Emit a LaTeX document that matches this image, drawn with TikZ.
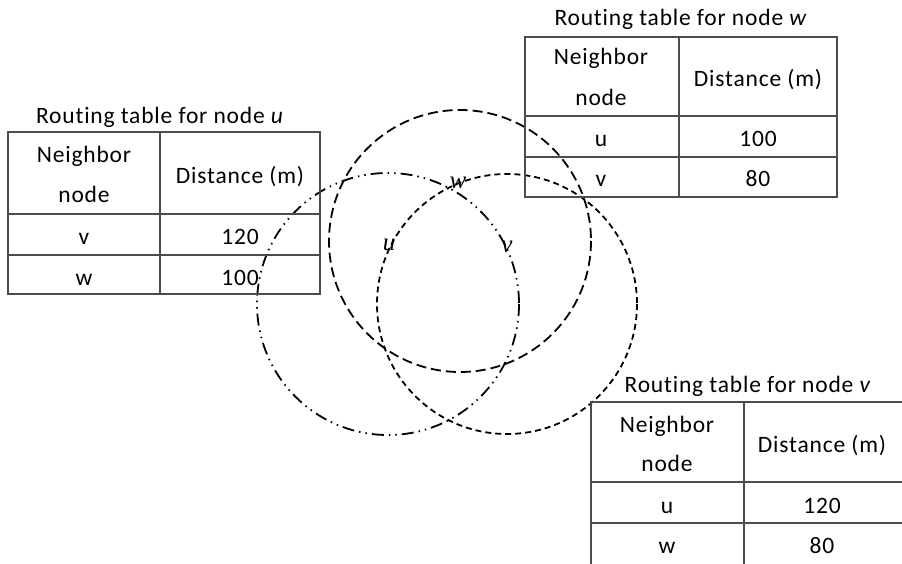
\documentclass[tikz,border=0pt]{standalone}
\usepackage{fontspec}
\setmainfont{Carlito}[LetterSpace=3.5,Ligatures=NoCommon]
\newfontfamily\tnr{Liberation Serif}
\begin{document}
\begin{tikzpicture}[x=1pt,y=-1pt,
  tline/.style={draw=black!70, line width=1.2pt},
  ttext/.style={font=\fontsize{23.5}{26}\selectfont, inner sep=0pt, anchor=base},
  lbl/.style={font=\tnr\itshape\fontsize{25}{27}\selectfont, inner sep=0pt, anchor=base},
  rangeu/.style={line width=1.8pt, dash pattern=on 12pt off 5pt on 1.5pt off 5pt on 1.5pt off 5pt},
  rangew/.style={line width=1.8pt, dash pattern=on 10pt off 5pt},
  rangev/.style={line width=1.8pt, dash pattern=on 6pt off 4pt}]
\useasboundingbox (0,0) rectangle (902,563);

% circles (communication ranges)
\coordinate (cu) at (388,304);
\coordinate (cw) at (460,241);
\coordinate (cv) at (507,304);
\draw[rangeu] (cu) circle[radius=131];
\draw[rangew] (cw) circle[radius=131];
\draw[rangev] (cv) circle[radius=130];
\node[lbl] (lu) at (389,250) {u};
\node[lbl] (lw) at (458,188) {w};
\node[lbl] (lv) at (507,252) {v};

% table u
\node[ttext] (tu) at (160,123) {Routing table for node \textit{u}};
\draw[tline] (8,132) rectangle (320,294);
\draw[tline] (160,132) -- (160,294);
\draw[tline] (8,214) -- (320,214);
\draw[tline] (8,255) -- (320,255);
\node[ttext] (tu1) at (84,162) {Neighbor};
\node[ttext] (tu2) at (84,202) {node};
\node[ttext] (tu3) at (240,183) {Distance (m)};
\node[ttext] (tu4) at (84,244) {v};
\node[ttext] (tu5) at (240,244) {120};
\node[ttext] (tu6) at (84,285) {w};
\node[ttext] (tu7) at (240,285) {100};

% table w
\node[ttext] (tw) at (681,25) {Routing table for node \textit{w}};
\draw[tline] (525,37) rectangle (837,197);
\draw[tline] (679,37) -- (679,197);
\draw[tline] (525,116) -- (837,116);
\draw[tline] (525,157) -- (837,157);
\node[ttext] (tw1) at (601,64) {Neighbor};
\node[ttext] (tw2) at (601,105) {node};
\node[ttext] (tw3) at (758,86) {Distance (m)};
\node[ttext] (tw4) at (601,146) {u};
\node[ttext] (tw5) at (758,146) {100};
\node[ttext] (tw6) at (601,186) {v};
\node[ttext] (tw7) at (758,186) {80};

% table v
\node[ttext] (tv) at (748,392) {Routing table for node \textit{v}};
\draw[tline] (591,402) rectangle (903,566);
\draw[tline] (744,402) -- (744,566);
\draw[tline] (591,482) -- (903,482);
\draw[tline] (591,523) -- (903,523);
\node[ttext] (tv1) at (667,432) {Neighbor};
\node[ttext] (tv2) at (667,471) {node};
\node[ttext] (tv3) at (822,452) {Distance (m)};
\node[ttext] (tv4) at (667,513) {u};
\node[ttext] (tv5) at (822,513) {120};
\node[ttext] (tv6) at (667,553) {w};
\node[ttext] (tv7) at (822,553) {80};
\end{tikzpicture}
\end{document}
